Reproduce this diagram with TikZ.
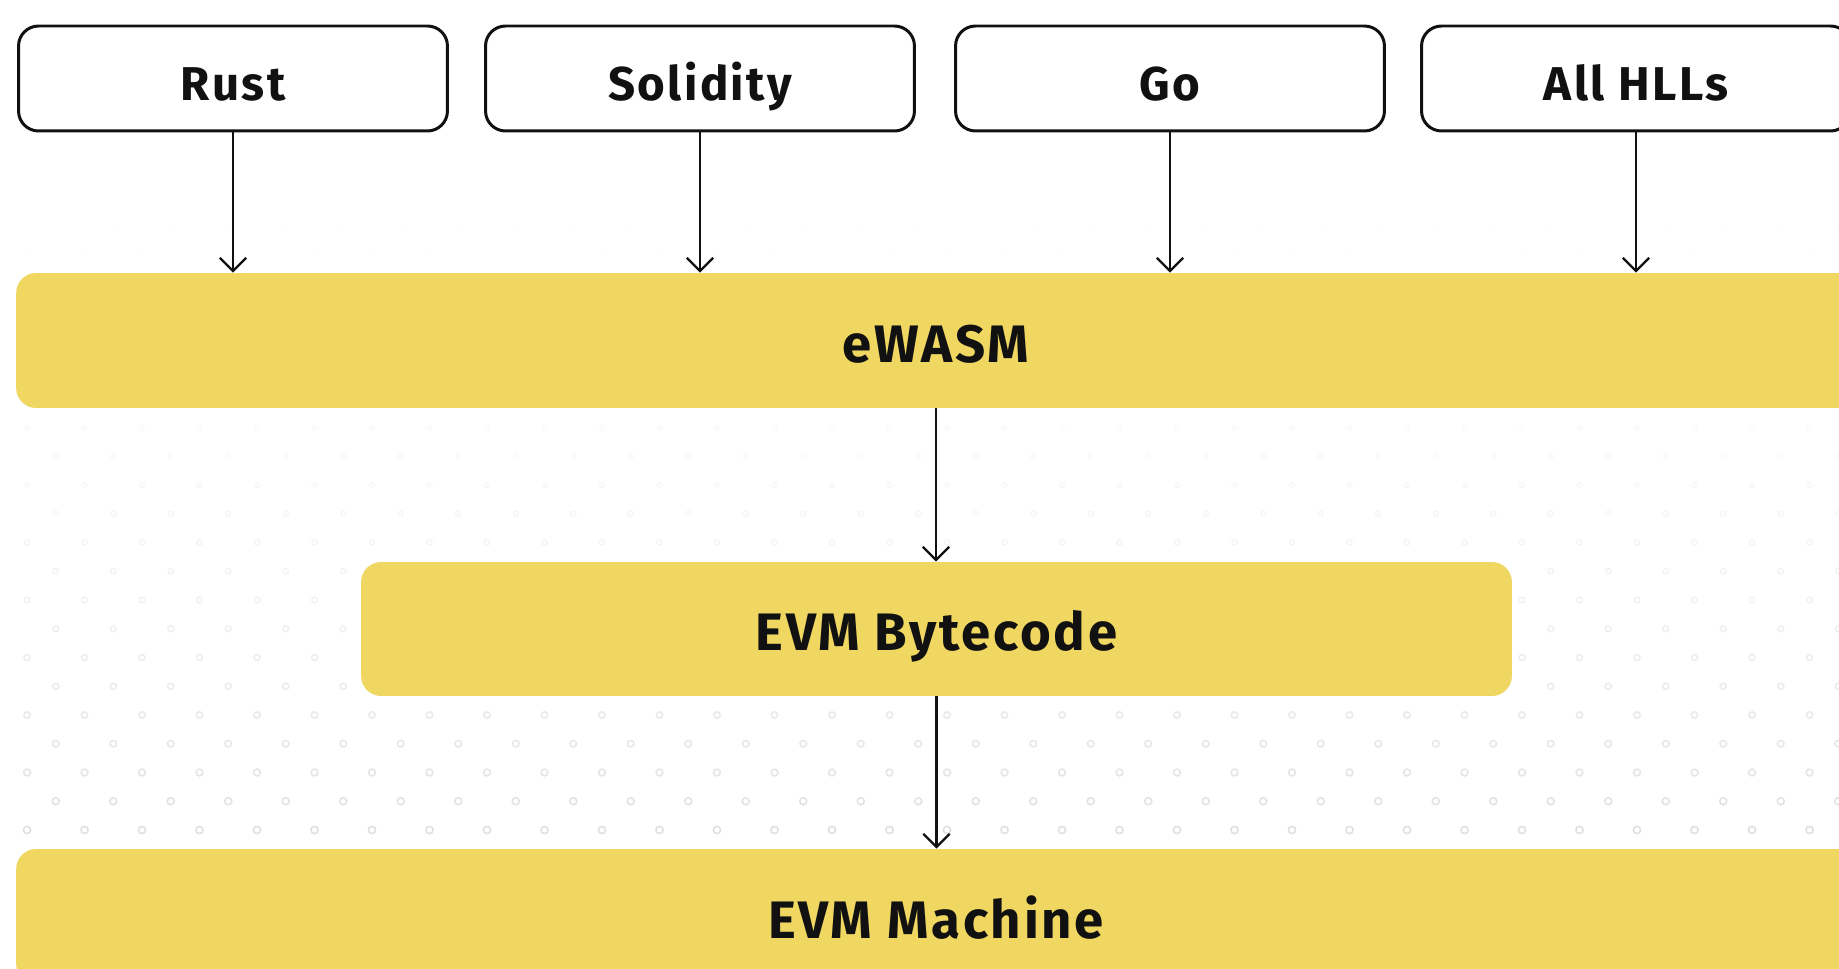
\documentclass[tikz,border=0pt]{standalone}
\usepackage{fontspec}
\setmainfont{Fira Sans}[LetterSpace=5]
\usetikzlibrary{arrows.meta}

\definecolor{evmyellow}{RGB}{239,215,98}
\definecolor{inkblack}{RGB}{17,17,17}
\definecolor{dotgray}{RGB}{224,224,224}

\tikzset{
  langbox/.style={draw=inkblack, line width=1.7pt, rounded corners=0.4cm, fill=white,
    minimum width=8.58cm, minimum height=2.1cm, text=inkblack,
    text height=25pt, text depth=0pt,
    font=\fontsize{27}{30}\selectfont\bfseries},
  layerbox/.style={fill=evmyellow, rounded corners=0.4cm, inner sep=0pt,
    minimum height=2.7cm, text=inkblack, text height=25pt, text depth=0pt,
    font=\fontsize{30}{34}\selectfont\bfseries},
  arr/.style={draw=inkblack, line width=1.3pt, -{Straight Barb[length=7.5pt, width=15pt]}}
}

\begin{document}
\begin{tikzpicture}[x=0.02cm, y=-0.02cm]
  \clip (0,0) rectangle (1839,969);
  \fill[white] (0,0) rectangle (1839,969);

  % faint ring pattern in the background
  \foreach \j in {0,...,21} {
    \pgfmathsetmacro\op{(1-\j/22)^2}
    \pgfmathsetmacro\rad{3.6-0.1*\j}
    \foreach \i in {0,...,32}
      \draw[dotgray, line width=0.9pt, draw opacity=\op]
        ({27+28.75*mod(\j,2)+57.5*\i}, {830-28.75*\j}) circle[radius=\rad];
  }

  % source languages
  \node[langbox] (rust) at (233,78.5) {Rust};
  \node[langbox] (solidity) at (700,78.5) {Solidity};
  \node[langbox] (go) at (1170,78.5) {Go};
  \node[langbox] (hll) at (1636,78.5) {All HLLs};

  % layers
  \node[layerbox, minimum width=36.8cm] (ewasm) at (936,340.5) {eWASM};
  \node[layerbox, minimum width=23.02cm, minimum height=2.68cm] (bytecode) at (936.5,629) {EVM Bytecode};
  \node[layerbox, minimum width=36.8cm] (machine) at (936,916.5) {EVM Machine};

  \foreach \src in {rust, solidity, go, hll}
    \draw[arr] (\src) -- (\src |- ewasm.north);
  \draw[arr] (ewasm) -- (ewasm |- bytecode.north);
  \draw[arr] (bytecode) -- (bytecode |- machine.north);
\end{tikzpicture}
\end{document}
